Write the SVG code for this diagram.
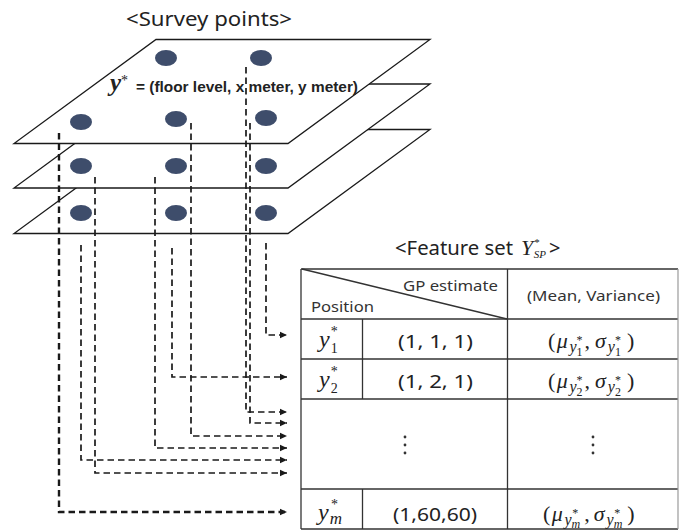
<svg xmlns="http://www.w3.org/2000/svg" width="694" height="531" viewBox="0 0 694 531">
  <defs>
    <style>
      .plane { fill: #ffffff; stroke: #1a1a1a; stroke-width: 1.3; }
      .dot { fill: #3e4d6b; }
      .conn { fill: none; stroke: #1a1a1a; stroke-width: 1.7; stroke-dasharray: 6.5 4; }
      .conn.heavy { stroke-width: 2.4; }
      .grid { stroke: #333333; stroke-width: 1.3; fill: none; }
      .title { font-family: "Noto Sans", "Open Sans", sans-serif; font-size: 20px; fill: #222222; }
      .head { font-family: "Noto Sans", "Open Sans", sans-serif; font-size: 14px; fill: #333333; }
      .num { font-family: "Noto Sans", "Open Sans", sans-serif; font-size: 18px; fill: #222222; }
      .m { font-family: "Liberation Serif", "DejaVu Serif", serif; font-style: italic; fill: #222222; }
      .r { font-family: "Liberation Serif", "DejaVu Serif", serif; font-style: normal; fill: #222222; }
      .big { font-size: 22px; }
      .pos { font-size: 24px; }
    </style>
    <marker id="arrow" markerUnits="userSpaceOnUse" markerWidth="8" markerHeight="8" refX="7" refY="4" orient="auto">
      <path d="M0,0.8 L7,4 L0,7.2 Z" fill="#1a1a1a"/>
    </marker>
  </defs>

  <rect width="694" height="531" fill="#ffffff"/>

  <!-- floor planes, back to front -->
  <g id="floor-3">
    <polygon class="plane" points="156,129.5 430,129.5 288,233.5 14,233.5"/>
    <ellipse class="dot" cx="81" cy="213" rx="11" ry="8"/>
    <ellipse class="dot" cx="176" cy="213" rx="11" ry="8"/>
    <ellipse class="dot" cx="266" cy="213" rx="11" ry="8"/>
  </g>
  <g id="floor-2">
    <polygon class="plane" points="156,84 430,84 288,188 14,188"/>
    <ellipse class="dot" cx="81" cy="166" rx="11" ry="8"/>
    <ellipse class="dot" cx="176" cy="166" rx="11" ry="8"/>
    <ellipse class="dot" cx="266" cy="166" rx="11" ry="8"/>
  </g>
  <g id="floor-1">
    <polygon class="plane" points="156,39.5 430,39.5 288,143.5 14,143.5"/>
    <ellipse class="dot" cx="166" cy="58" rx="11" ry="8"/>
    <ellipse class="dot" cx="261" cy="58" rx="11" ry="8"/>
    <ellipse class="dot" cx="81" cy="122" rx="11" ry="8"/>
    <ellipse class="dot" cx="176" cy="119" rx="11" ry="8"/>
    <ellipse class="dot" cx="266" cy="118" rx="11" ry="8"/>
    <text class="m" x="110" y="91" font-weight="bold" font-size="25">y<tspan class="r" font-weight="normal" font-size="14" dy="-6">*</tspan></text>
    <text x="136" y="92" font-family="Liberation Sans, Arial, sans-serif" font-weight="bold" font-size="14" fill="#222" textLength="222" lengthAdjust="spacingAndGlyphs">= (floor level, x meter, y meter)</text>
  </g>

  <g id="survey-title">
    <text class="title" x="126" y="26" textLength="166" lengthAdjust="spacingAndGlyphs">&lt;Survey points&gt;</text>
  </g>

  <!-- survey point to feature row connectors -->
  <g id="connectors">
    <path class="conn" d="M266,243 V335 H287" marker-end="url(#arrow)"/>
    <path class="conn" d="M172,248 V377 H287" marker-end="url(#arrow)"/>
    <path class="conn" d="M246,67 V412 H287" marker-end="url(#arrow)"/>
    <path class="conn" d="M250,123 V423 H287" marker-end="url(#arrow)"/>
    <path class="conn" d="M191,123 V436 H287" marker-end="url(#arrow)"/>
    <path class="conn" d="M155,177 V448 H287" marker-end="url(#arrow)"/>
    <path class="conn" d="M81,245 V460 H287" marker-end="url(#arrow)"/>
    <path class="conn" d="M95,177 V473 H287" marker-end="url(#arrow)"/>
    <path class="conn heavy" d="M59,133 V512 H287" marker-end="url(#arrow)"/>
  </g>

  <g id="feature-title">
    <text class="title" x="395" y="255" textLength="118" lengthAdjust="spacingAndGlyphs">&lt;Feature set</text>
    <text class="m big" x="521" y="255">Y<tspan class="r" font-size="11" dx="1" dy="-9">*</tspan><tspan font-size="11" dx="-6" dy="12">SP</tspan></text>
    <text class="title" x="549" y="255">&gt;</text>
  </g>

  <!-- feature table -->
  <g id="feature-table">
    <line class="grid" x1="301" y1="269" x2="678" y2="269"/>
    <line class="grid" x1="301" y1="319" x2="678" y2="319"/>
    <line class="grid" x1="301" y1="359" x2="678" y2="359"/>
    <line class="grid" x1="301" y1="399" x2="678" y2="399"/>
    <line class="grid" x1="301" y1="489" x2="678" y2="489"/>
    <line class="grid" x1="301" y1="529" x2="678" y2="529"/>
    <line class="grid" x1="301" y1="269" x2="301" y2="529"/>
    <line class="grid" x1="507.5" y1="269" x2="507.5" y2="529"/>
    <line class="grid" x1="362.5" y1="319" x2="362.5" y2="399"/>
    <line class="grid" x1="362.5" y1="489" x2="362.5" y2="529"/>
    <line x1="678" y1="269" x2="678" y2="529" stroke="#9a9a9a" stroke-width="1.2"/>
    <line class="grid" x1="302" y1="269" x2="507" y2="319" stroke-width="1.1"/>

    <text class="head" x="403" y="291" textLength="95" lengthAdjust="spacingAndGlyphs">GP estimate</text>
    <text class="head" x="311" y="312" textLength="63" lengthAdjust="spacingAndGlyphs">Position</text>
    <text class="head" x="527" y="301" textLength="133" lengthAdjust="spacingAndGlyphs">(Mean, Variance)</text>
  </g>

  <g id="row-1">
    <text class="m pos" x="319" y="347">y<tspan class="r" font-size="14" dx="1" dy="-11">*</tspan><tspan class="r" font-size="14" dx="-7" dy="17">1</tspan></text>
    <text class="num" x="398" y="348" textLength="75" lengthAdjust="spacingAndGlyphs">(1, 1, 1)</text>
    <text class="r big" x="548" y="348">(<tspan class="m" dx="1.5">μ</tspan><tspan class="m" font-size="16" dx="1.5" dy="4">y</tspan><tspan font-size="12" dy="-8">*</tspan><tspan font-size="12" dx="-6" dy="12">1</tspan><tspan dx="2" dy="-8">,</tspan><tspan class="m" dx="5">σ</tspan><tspan class="m" font-size="16" dx="2" dy="4">y</tspan><tspan font-size="12" dy="-8">*</tspan><tspan font-size="12" dx="-6" dy="12">1</tspan><tspan dx="6" dy="-8">)</tspan></text>
  </g>

  <g id="row-2">
    <text class="m pos" x="319" y="387">y<tspan class="r" font-size="14" dx="1" dy="-11">*</tspan><tspan class="r" font-size="14" dx="-7" dy="17">2</tspan></text>
    <text class="num" x="398" y="388" textLength="75" lengthAdjust="spacingAndGlyphs">(1, 2, 1)</text>
    <text class="r big" x="548" y="388">(<tspan class="m" dx="1.5">μ</tspan><tspan class="m" font-size="16" dx="1.5" dy="4">y</tspan><tspan font-size="12" dy="-8">*</tspan><tspan font-size="12" dx="-6" dy="12">2</tspan><tspan dx="2" dy="-8">,</tspan><tspan class="m" dx="5">σ</tspan><tspan class="m" font-size="16" dx="2" dy="4">y</tspan><tspan font-size="12" dy="-8">*</tspan><tspan font-size="12" dx="-6" dy="12">2</tspan><tspan dx="6" dy="-8">)</tspan></text>
  </g>

  <g id="row-ellipsis" fill="#333333">
    <circle cx="405" cy="437" r="1.4"/>
    <circle cx="405" cy="445" r="1.4"/>
    <circle cx="405" cy="453" r="1.4"/>
    <circle cx="593" cy="437" r="1.4"/>
    <circle cx="593" cy="445" r="1.4"/>
    <circle cx="593" cy="453" r="1.4"/>
  </g>

  <g id="row-m">
    <text class="m pos" x="318" y="520">y<tspan font-size="17" dx="1" dy="4">m</tspan><tspan class="r" font-size="14" dx="-11" dy="-15">*</tspan></text>
    <text class="num" x="393" y="521" textLength="84" lengthAdjust="spacingAndGlyphs">(1,60,60)</text>
    <text class="r big" x="543" y="521">(<tspan class="m" dx="1.5">μ</tspan><tspan class="m" font-size="16" dx="1.5" dy="4">y</tspan><tspan class="m" font-size="12" dy="3">m</tspan><tspan font-size="12" dx="-8" dy="-11">*</tspan><tspan dx="6" dy="4">,</tspan><tspan class="m" dx="4">σ</tspan><tspan class="m" font-size="16" dx="2" dy="4">y</tspan><tspan class="m" font-size="12" dy="3">m</tspan><tspan font-size="12" dx="-8" dy="-11">*</tspan><tspan dx="7" dy="4">)</tspan></text>
  </g>
</svg>
